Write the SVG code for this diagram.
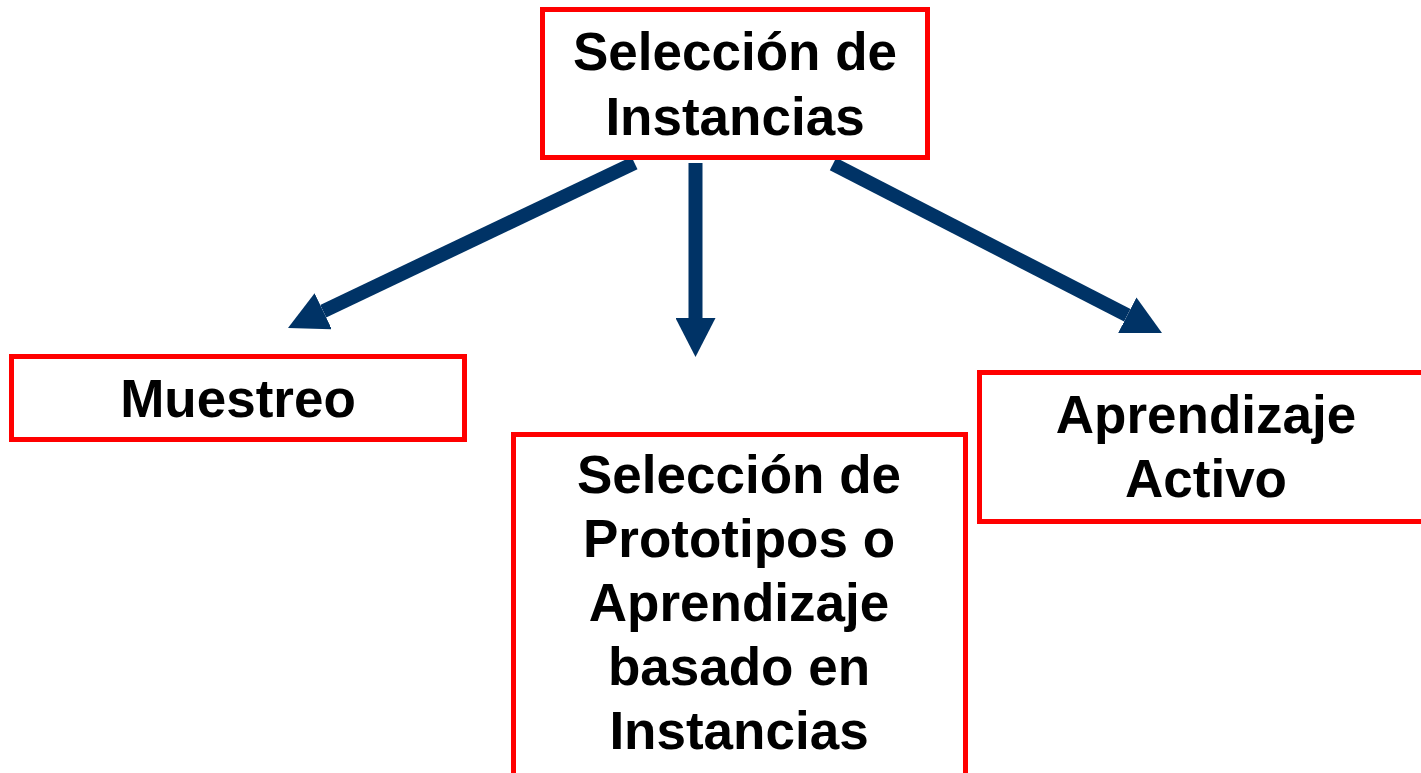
<svg xmlns="http://www.w3.org/2000/svg" width="1421" height="773" viewBox="0 0 1421 773">
<style>
.box{fill:#FFFFFF;stroke:#FF0000;stroke-width:5}
.lbl{font-family:"Liberation Sans",Arial,sans-serif;font-weight:bold;font-size:53px;fill:#000000;text-anchor:middle}
.arr{stroke:#003366;stroke-width:14;fill:none;stroke-linecap:butt}
</style>
<defs>
<marker id="head" markerUnits="userSpaceOnUse" markerWidth="40" markerHeight="40" viewBox="0 0 40 40" refX="0" refY="20" orient="auto">
<path d="M0,0 L39,20 L0,40 Z" fill="#003366"/>
</marker>
</defs>
<rect width="1421" height="773" fill="#FFFFFF"/>
<g id="connectors">
<line class="arr" x1="634.5" y1="163" x2="323.2" y2="311.2" marker-end="url(#head)"/>
<line class="arr" x1="695.5" y1="163" x2="695.5" y2="318" marker-end="url(#head)"/>
<line class="arr" x1="833" y1="164" x2="1127.3" y2="315.2" marker-end="url(#head)"/>
</g>
<g id="node-seleccion-instancias">
<rect class="box" x="542.5" y="9.5" width="385" height="148"/>
<text class="lbl" x="735" y="70">Selección de</text>
<text class="lbl" x="735" y="135">Instancias</text>
</g>
<g id="node-muestreo">
<rect class="box" x="11.5" y="356.5" width="453" height="83"/>
<text class="lbl" x="238" y="417">Muestreo</text>
</g>
<g id="node-prototipos">
<rect class="box" x="513.5" y="434.5" width="452" height="360"/>
<text class="lbl" x="739" y="493">Selección de</text>
<text class="lbl" x="739" y="557">Prototipos o</text>
<text class="lbl" x="739" y="621">Aprendizaje</text>
<text class="lbl" x="739" y="685">basado en</text>
<text class="lbl" x="739" y="749">Instancias</text>
</g>
<g id="node-aprendizaje-activo">
<rect class="box" x="979.5" y="372.5" width="460" height="149"/>
<text class="lbl" x="1206" y="433">Aprendizaje</text>
<text class="lbl" x="1206" y="497">Activo</text>
</g>
</svg>
